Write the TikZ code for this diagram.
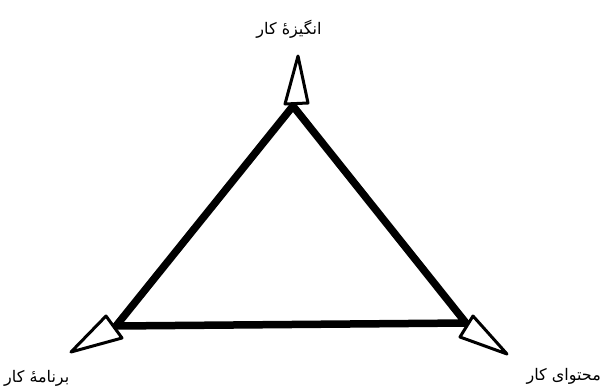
\documentclass[tikz,border=0pt]{standalone}
\usepackage{fontspec}
\newfontfamily\arabicfont[Script=Arabic]{DejaVu Sans}
\TeXXeTstate=1
\begin{document}
\begin{tikzpicture}[x=1pt,y=-1pt,
  side/.style={line width=7.5pt,line join=round,line cap=round},
  head/.style={draw,fill=white,line width=3pt,line join=round},
  lbl/.style={inner sep=0pt,font=\arabicfont\fontsize{16}{19}\selectfont}]
\useasboundingbox (0,0) rectangle (604,391);
\coordinate (T) at (293,106);
\coordinate (L) at (116,326);
\coordinate (R) at (466,323);
\draw[side] (T) -- (L) -- (R) -- cycle;
% arrowheads
\draw[head] (298,56) -- (308,103) -- (285,104) -- cycle;
\draw[head] (71,352) -- (106,316) -- (122,338) -- cycle;
\draw[head] (507,354) -- (473,316) -- (460,337) -- cycle;
\node[lbl] (top) at (289,29) {\beginR انگیزهٔ کار\endR};
\node[lbl,anchor=west] (bl) at (4,378) {\beginR برنامهٔ کار\endR};
\node[lbl,anchor=east] (br) at (601,376) {\beginR محتوای کار\endR};
\end{tikzpicture}
\end{document}
